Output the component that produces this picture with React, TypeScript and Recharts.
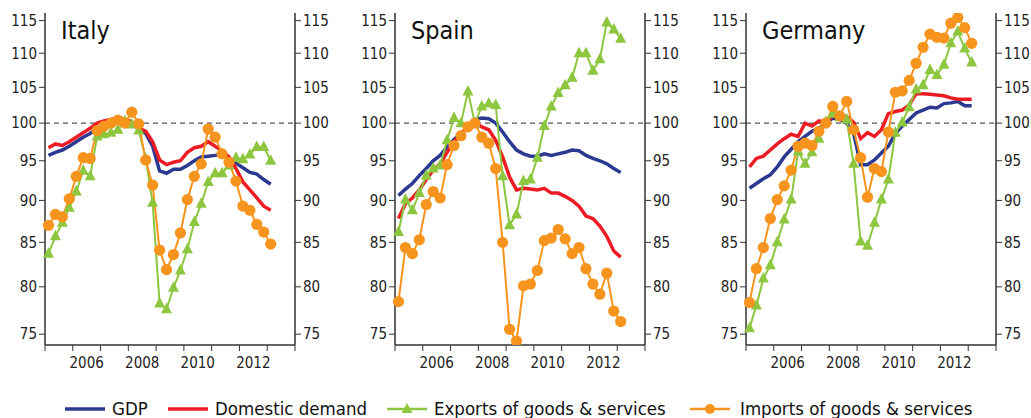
import React from 'react';
import { LineChart, Line, XAxis, YAxis, ReferenceLine } from 'recharts';

// quarterly observations, 2005Q1 .. 2013Q1
const quarters: string[] = [];
for (let y = 2005; y <= 2013; y++) {
  for (let q = 1; q <= 4; q++) {
    if (y === 2013 && q > 1) break;
    quarters.push(`${y}Q${q}`);
  }
}

const yearTicks = [2005, 2006, 2007, 2008, 2009, 2010, 2011, 2012, 2013, 2014];
const yearLabels = [2006, 2008, 2010, 2012];
const valueTicks = [75, 80, 85, 90, 95, 100, 105, 110, 115];

// Italy
const italyGdp = [95.7, 96.1, 96.4, 96.9, 97.5, 98.1, 98.6, 99.3, 99.6, 99.9, 100.3, 100.3, 100.0, 99.3, 98.6, 96.9, 93.7, 93.4, 93.9, 93.9, 94.4, 95.0, 95.5, 95.6, 95.7, 95.9, 95.3, 94.7, 94.1, 93.5, 93.3, 92.6, 92.0];
const italyDomestic = [96.7, 97.2, 97.0, 97.5, 98.1, 98.7, 99.3, 100.0, 100.3, 100.5, 100.7, 100.5, 100.2, 99.3, 98.9, 97.5, 95.1, 94.5, 94.8, 95.0, 96.1, 96.7, 96.9, 97.5, 96.9, 96.3, 95.5, 94.0, 92.3, 91.3, 90.3, 89.3, 88.8];
const italyExports = [83.7, 85.7, 87.3, 89.1, 91.1, 93.7, 93.0, 98.2, 98.5, 98.7, 99.1, 100.3, 99.8, 99.0, 95.3, 89.7, 78.2, 77.6, 79.9, 81.8, 84.2, 87.4, 89.6, 92.3, 93.4, 93.4, 94.4, 95.4, 95.2, 95.8, 96.8, 96.8, 95.0];
const italyImports = [87.0, 88.3, 88.0, 90.2, 93.0, 95.4, 95.3, 99.0, 99.6, 100.0, 100.4, 100.0, 101.5, 99.9, 95.1, 91.9, 84.1, 81.9, 83.6, 86.1, 90.1, 93.0, 94.6, 99.2, 98.1, 95.9, 94.8, 92.4, 89.3, 88.8, 87.1, 86.2, 84.8];

// Spain
const spainGdp = [90.6, 91.4, 92.1, 93.1, 94.0, 95.0, 95.7, 96.8, 97.8, 98.6, 99.3, 100.5, 100.7, 100.6, 100.0, 98.8, 97.5, 96.4, 95.9, 95.6, 95.6, 95.9, 95.7, 95.9, 96.1, 96.4, 96.3, 95.7, 95.3, 95.0, 94.6, 94.0, 93.5];
const spainDomestic = [87.8, 89.6, 90.3, 91.3, 92.6, 93.8, 94.6, 96.1, 97.5, 98.6, 99.5, 100.0, 99.5, 99.1, 97.7, 95.5, 92.9, 91.3, 91.5, 91.4, 91.3, 91.5, 90.9, 90.9, 90.5, 90.0, 89.3, 88.1, 87.8, 86.9, 85.7, 84.0, 83.3];
const spainExports = [86.2, 90.1, 88.8, 90.9, 93.1, 94.0, 94.4, 97.7, 100.7, 100.0, 104.4, 100.0, 102.3, 102.7, 102.5, 93.0, 87.0, 88.3, 92.4, 92.6, 95.4, 99.6, 102.3, 104.2, 105.3, 106.4, 110.0, 110.0, 107.4, 109.1, 114.7, 113.6, 112.2];
const spainImports = [78.4, 84.4, 83.7, 85.3, 89.5, 91.1, 90.3, 94.5, 97.0, 98.3, 99.5, 100.0, 98.1, 97.3, 94.0, 85.0, 75.5, 74.3, 80.1, 80.3, 81.8, 85.2, 85.5, 86.5, 85.4, 83.7, 84.4, 82.0, 80.3, 79.2, 81.5, 77.4, 76.3];

// Germany
const germanyGdp = [91.5, 92.1, 92.7, 93.2, 94.2, 95.5, 96.5, 97.5, 98.2, 98.9, 99.3, 100.0, 100.7, 100.5, 100.0, 98.6, 94.5, 94.5, 95.1, 96.0, 96.9, 98.6, 99.6, 100.5, 101.4, 101.8, 102.2, 102.1, 102.7, 102.8, 103.0, 102.4, 102.4];
const germanyDomestic = [94.2, 95.3, 95.6, 96.4, 97.2, 97.9, 98.5, 98.2, 100.0, 99.6, 100.3, 100.1, 101.0, 101.1, 100.9, 100.1, 97.9, 98.7, 98.2, 99.1, 101.3, 101.6, 101.8, 102.5, 104.1, 104.1, 104.0, 103.9, 103.8, 103.5, 103.3, 103.3, 103.3];
const germanyExports = [75.6, 78.0, 80.9, 82.4, 85.0, 87.7, 90.1, 96.2, 94.6, 96.1, 97.9, 100.2, 101.3, 100.8, 100.5, 94.6, 85.1, 84.6, 87.3, 90.1, 92.6, 98.7, 100.1, 102.2, 104.7, 105.3, 107.5, 106.8, 108.3, 111.5, 113.3, 110.7, 108.6];
const germanyImports = [78.3, 82.0, 84.4, 87.8, 90.1, 91.8, 93.8, 96.9, 97.3, 97.0, 98.9, 100.0, 102.3, 101.0, 103.0, 99.1, 95.4, 90.4, 94.0, 93.6, 98.8, 104.3, 104.5, 106.0, 108.5, 110.9, 112.9, 112.4, 112.3, 114.6, 115.5, 113.9, 111.5];

const COLORS = {
  gdp: '#2b3990',
  domestic: '#ed1c24',
  exports: '#8dc63f',
  imports: '#f7941d',
};

const FONT = '"DejaVu Sans Condensed", "DejaVu Sans", sans-serif';
const AXIS = '#333';

const quarterToX = (label: string) => {
  const [y, q] = label.split('Q');
  return Number(y) + (Number(q) - 0.5) / 4;
};

const buildRows = (gdp: number[], dom: number[], exp: number[], imp: number[]) =>
  quarters.map((qt, i) => ({
    t: quarterToX(qt),
    gdp: gdp[i],
    domestic: dom[i],
    exports: exp[i],
    imports: imp[i],
  }));

const panels = [
  { name: 'Italy', left: 0, rows: buildRows(italyGdp, italyDomestic, italyExports, italyImports) },
  { name: 'Spain', left: 350, rows: buildRows(spainGdp, spainDomestic, spainExports, spainImports) },
  { name: 'Germany', left: 701, rows: buildRows(germanyGdp, germanyDomestic, germanyExports, germanyImports) },
];

const PLOT_W = 250;
const YAXIS_W = 45;
const CHART_W = YAXIS_W * 2 + PLOT_W + 10;
const CHART_H = 380;
const YEAR_PX = PLOT_W / 9;

const Triangle = (props: any) => {
  const { cx, cy } = props;
  if (cx == null || cy == null) return <g />;
  return (
    <polygon
      points={`${cx},${cy - 6.5} ${cx - 5.5},${cy + 4} ${cx + 5.5},${cy + 4}`}
      fill={COLORS.exports}
    />
  );
};

const Dot = (props: any) => {
  const { cx, cy } = props;
  if (cx == null || cy == null) return <g />;
  return <circle cx={cx} cy={cy} r={5.6} fill={COLORS.imports} />;
};

// year labels sit in the middle of each year span
const YearTick = (props: any) => {
  const { x, y, payload } = props;
  if (!yearLabels.includes(payload.value)) return <g />;
  return (
    <text x={x + YEAR_PX / 2} y={y} dy={15} textAnchor="middle" fontSize={15} fontFamily={FONT} fill="#222">
      {payload.value}
    </text>
  );
};

const tickStyle = { fontSize: 15, fontFamily: FONT, fill: '#222' };

const Panel = ({ name, rows }: { name: string; rows: any[] }) => (
  <div style={{ position: 'relative', width: CHART_W, height: CHART_H }}>
    <LineChart width={CHART_W} height={CHART_H} data={rows} margin={{ top: 13, right: 10, bottom: 5, left: 0 }}>
      <XAxis
        dataKey="t"
        type="number"
        domain={[2005, 2014]}
        ticks={yearTicks}
        tick={<YearTick />}
        tickLine={{ stroke: AXIS }}
        axisLine={{ stroke: AXIS, strokeWidth: 1.5 }}
        height={30}
        interval={0}
      />
      <XAxis
        xAxisId="top"
        orientation="top"
        dataKey="t"
        type="number"
        domain={[2005, 2014]}
        tick={false}
        tickLine={false}
        axisLine={{ stroke: AXIS, strokeWidth: 1.5 }}
        height={0}
      />
      <YAxis
        yAxisId="left"
        scale="log"
        domain={[73.9, 116.2]}
        allowDataOverflow
        ticks={valueTicks}
        interval={0}
        width={YAXIS_W}
        tick={tickStyle}
        tickLine={{ stroke: AXIS }}
        axisLine={{ stroke: AXIS, strokeWidth: 1.5 }}
      />
      <YAxis
        yAxisId="right"
        orientation="right"
        scale="log"
        domain={[73.9, 116.2]}
        allowDataOverflow
        ticks={valueTicks}
        interval={0}
        width={YAXIS_W}
        tick={tickStyle}
        tickLine={{ stroke: AXIS }}
        axisLine={{ stroke: AXIS, strokeWidth: 1.5 }}
      />
      <ReferenceLine yAxisId="left" y={100} stroke="#555" strokeWidth={1.3} strokeDasharray="5 4" />
      <Line yAxisId="left" dataKey="gdp" stroke={COLORS.gdp} strokeWidth={3.5} dot={false} isAnimationActive={false} />
      <Line yAxisId="left" dataKey="domestic" stroke={COLORS.domestic} strokeWidth={3.5} dot={false} isAnimationActive={false} />
      <Line yAxisId="left" dataKey="exports" stroke={COLORS.exports} strokeWidth={2} dot={<Triangle />} isAnimationActive={false} />
      <Line yAxisId="left" dataKey="imports" stroke={COLORS.imports} strokeWidth={2} dot={<Dot />} isAnimationActive={false} />
    </LineChart>
    <div style={{ position: 'absolute', left: YAXIS_W + 16, top: 18, fontFamily: FONT, fontSize: 25, color: '#111', lineHeight: 1 }}>
      {name}
    </div>
  </div>
);

const legendItems = [
  { label: 'GDP', color: COLORS.gdp, mark: 'none', left: 65 },
  { label: 'Domestic demand', color: COLORS.domestic, mark: 'none', left: 168 },
  { label: 'Exports of goods & services', color: COLORS.exports, mark: 'triangle', left: 387 },
  { label: 'Imports of goods & services', color: COLORS.imports, mark: 'circle', left: 690 },
];

const LegendIcon = ({ color, mark }: { color: string; mark: string }) => (
  <svg width={40} height={14} style={{ marginRight: mark === 'circle' ? 10 : 7 }}>
    <line x1={0} y1={7} x2={40} y2={7} stroke={color} strokeWidth={mark === 'none' ? 3.5 : 2.5} />
    {mark === 'triangle' && <polygon points="20,1 14.5,11 25.5,11" fill={color} />}
    {mark === 'circle' && <circle cx={20} cy={7} r={5} fill={color} />}
  </svg>
);

export default function App() {
  return (
    <div style={{ position: 'absolute', left: 0, top: 0, width: 1031, height: 418, background: '#fff' }}>
      {panels.map((p) => (
        <div key={p.name} style={{ position: 'absolute', left: p.left, top: 0 }}>
          <Panel name={p.name} rows={p.rows} />
        </div>
      ))}
      {legendItems.map((it) => (
        <div
          key={it.label}
          style={{
            position: 'absolute',
            left: it.left,
            top: 398,
            display: 'flex',
            alignItems: 'center',
            fontFamily: FONT,
            fontSize: 18.5,
            color: '#111',
            whiteSpace: 'nowrap',
          }}
        >
          <LegendIcon color={it.color} mark={it.mark} />
          <span>{it.label}</span>
        </div>
      ))}
    </div>
  );
}
